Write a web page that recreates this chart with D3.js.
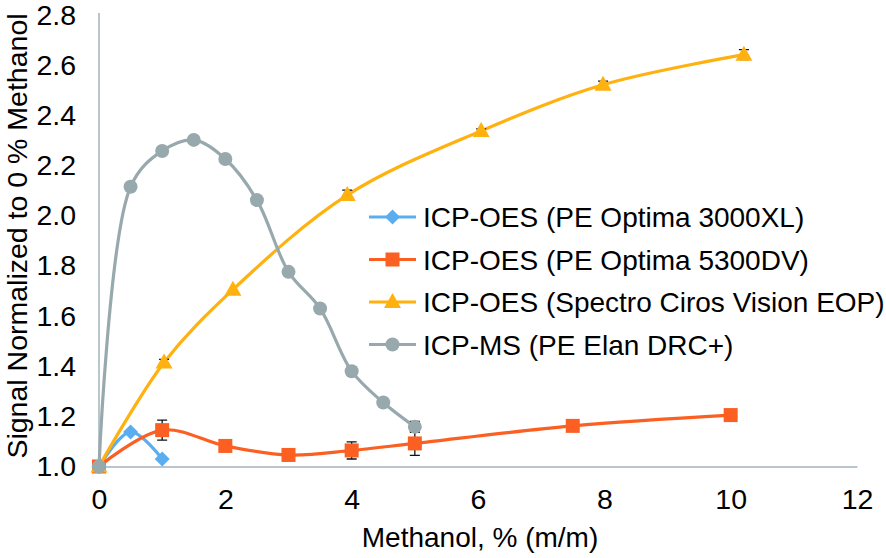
<!DOCTYPE html>
<html><head><meta charset="utf-8">
<script src="https://cdn.jsdelivr.net/npm/d3@7"></script>
<style>body{margin:0;background:#fff}svg{display:block;font-family:"Liberation Sans",Arial,sans-serif}</style>
</head><body><svg id="c" width="886" height="558"></svg>
<script>
const xTicks=[0,2,4,6,8,10,12];
const yTicks=[1.0,1.2,1.4,1.6,1.8,2.0,2.2,2.4,2.6,2.8];
const seriesNames=["ICP-OES (PE Optima 3000XL)","ICP-OES (PE Optima 5300DV)","ICP-OES (Spectro Ciros Vision EOP)","ICP-MS (PE Elan DRC+)"];
const blueX=[0,0.5,1];
const blueY=[1.0,1.138,1.03];
const blueErr=[0,0,0];
const orangeX=[0,1,2,3,4,5,7.5,10];
const orangeY=[1.0,1.145,1.082,1.046,1.064,1.092,1.162,1.205];
const orangeErr=[0,0.04,0,0.012,0.034,0.048,0.018,0.016];
const yellowX=[0,1.03,2.12,3.93,6.05,7.98,10.21];
const yellowY=[1.0,1.415,1.705,2.082,2.338,2.522,2.642];
const yellowErr=[0,0.012,0,0.02,0.008,0.014,0.02];
const grayX=[0,0.5,1,1.5,2,2.5,3,3.5,4,4.5,5];
const grayY=[1.0,2.115,2.258,2.302,2.226,2.062,1.776,1.63,1.38,1.255,1.158];
const grayErr=[0,0,0,0,0,0.016,0.01,0.012,0.016,0.012,0.022];

const colors=["#5aaeef","#fc5f22","#ffb10f","#98a9ae"];
const shapes=["diamond","square","triangle","circle"];
const data=[[blueX,blueY,blueErr],[orangeX,orangeY,orangeErr],[yellowX,yellowY,yellowErr],[grayX,grayY,grayErr]];

const svg=d3.select("#c");
const x=d3.scaleLinear().domain([0,12]).range([99,857]);
const y=d3.scaleLinear().domain([1.0,2.8]).range([466.5,15]);
const axisCol="#b9c6cb";

const xa=svg.append("g").attr("transform",`translate(0,${y(1.0)})`)
  .call(d3.axisBottom(x).tickValues(xTicks).tickSize(0).tickPadding(22).tickFormat(d3.format("d")));
xa.select(".domain").attr("stroke",axisCol).attr("stroke-width",2);
xa.selectAll("text").attr("font-size",28.5).attr("fill","#000").attr("font-family","Liberation Sans, Arial, sans-serif");
const ya=svg.append("g").attr("transform",`translate(${x(0)},0)`)
  .call(d3.axisLeft(y).tickValues(yTicks).tickSize(0).tickPadding(23).tickFormat(d3.format(".1f")));
ya.select(".domain").attr("stroke",axisCol).attr("stroke-width",2).attr("d",`M0,${y(1.0)}V${y(2.8)-2}`);
ya.selectAll("text").attr("font-size",28.5).attr("fill","#000").attr("font-family","Liberation Sans, Arial, sans-serif");

svg.append("text").attr("x",480).attr("y",547).attr("text-anchor","middle").attr("font-size",28).text("Methanol, % (m/m)");
svg.append("text").attr("transform","translate(27,236) rotate(-90)").attr("text-anchor","middle").attr("font-size",28.5).text("Signal Normalized to 0 % Methanol");

function marker(g,shape,cx,cy,col){
  if(shape==="circle") g.append("circle").attr("cx",cx).attr("cy",cy).attr("r",7).attr("fill",col);
  else if(shape==="square") g.append("rect").attr("x",cx-7).attr("y",cy-7).attr("width",14).attr("height",14).attr("fill",col);
  else if(shape==="diamond") g.append("path").attr("d",`M${cx},${cy-7.5}L${cx+7.5},${cy}L${cx},${cy+7.5}L${cx-7.5},${cy}Z`).attr("fill",col);
  else g.append("path").attr("d",`M${cx},${cy-9}L${cx+8.5},${cy+6}L${cx-8.5},${cy+6}Z`).attr("fill",col);
}

const line=d3.line().x(d=>x(d[0])).y(d=>y(d[1])).curve(d3.curveCatmullRom.alpha(0.5));
data.forEach((s,i)=>{
  const pts=s[0].map((v,j)=>[v,s[1][j],s[2][j]]);
  const g=svg.append("g");
  g.append("path").attr("d",line(pts)).attr("fill","none").attr("stroke",colors[i]).attr("stroke-width",3.2);
  pts.forEach(p=>{
    if(p[2]>0){
      const cx=x(p[0]),y1=y(p[1]+p[2]),y2=y(p[1]-p[2]);
      g.append("path").attr("d",`M${cx},${y1}V${y2}M${cx-5},${y1}H${cx+5}M${cx-5},${y2}H${cx+5}`).attr("stroke","#111").attr("stroke-width",1.3).attr("fill","none");
    }
  });
  pts.forEach(p=>marker(g,shapes[i],x(p[0]),y(p[1]),colors[i]));
});

const legY=[217,259.5,302,344.5];
seriesNames.forEach((n,i)=>{
  const g=svg.append("g");
  g.append("line").attr("x1",369).attr("x2",416).attr("y1",legY[i]).attr("y2",legY[i]).attr("stroke",colors[i]).attr("stroke-width",3.2);
  marker(g,shapes[i],392.5,legY[i],colors[i]);
  g.append("text").attr("x",423).attr("y",legY[i]+10).attr("font-size",28).attr("fill","#000").text(n);
});
</script></body></html>
